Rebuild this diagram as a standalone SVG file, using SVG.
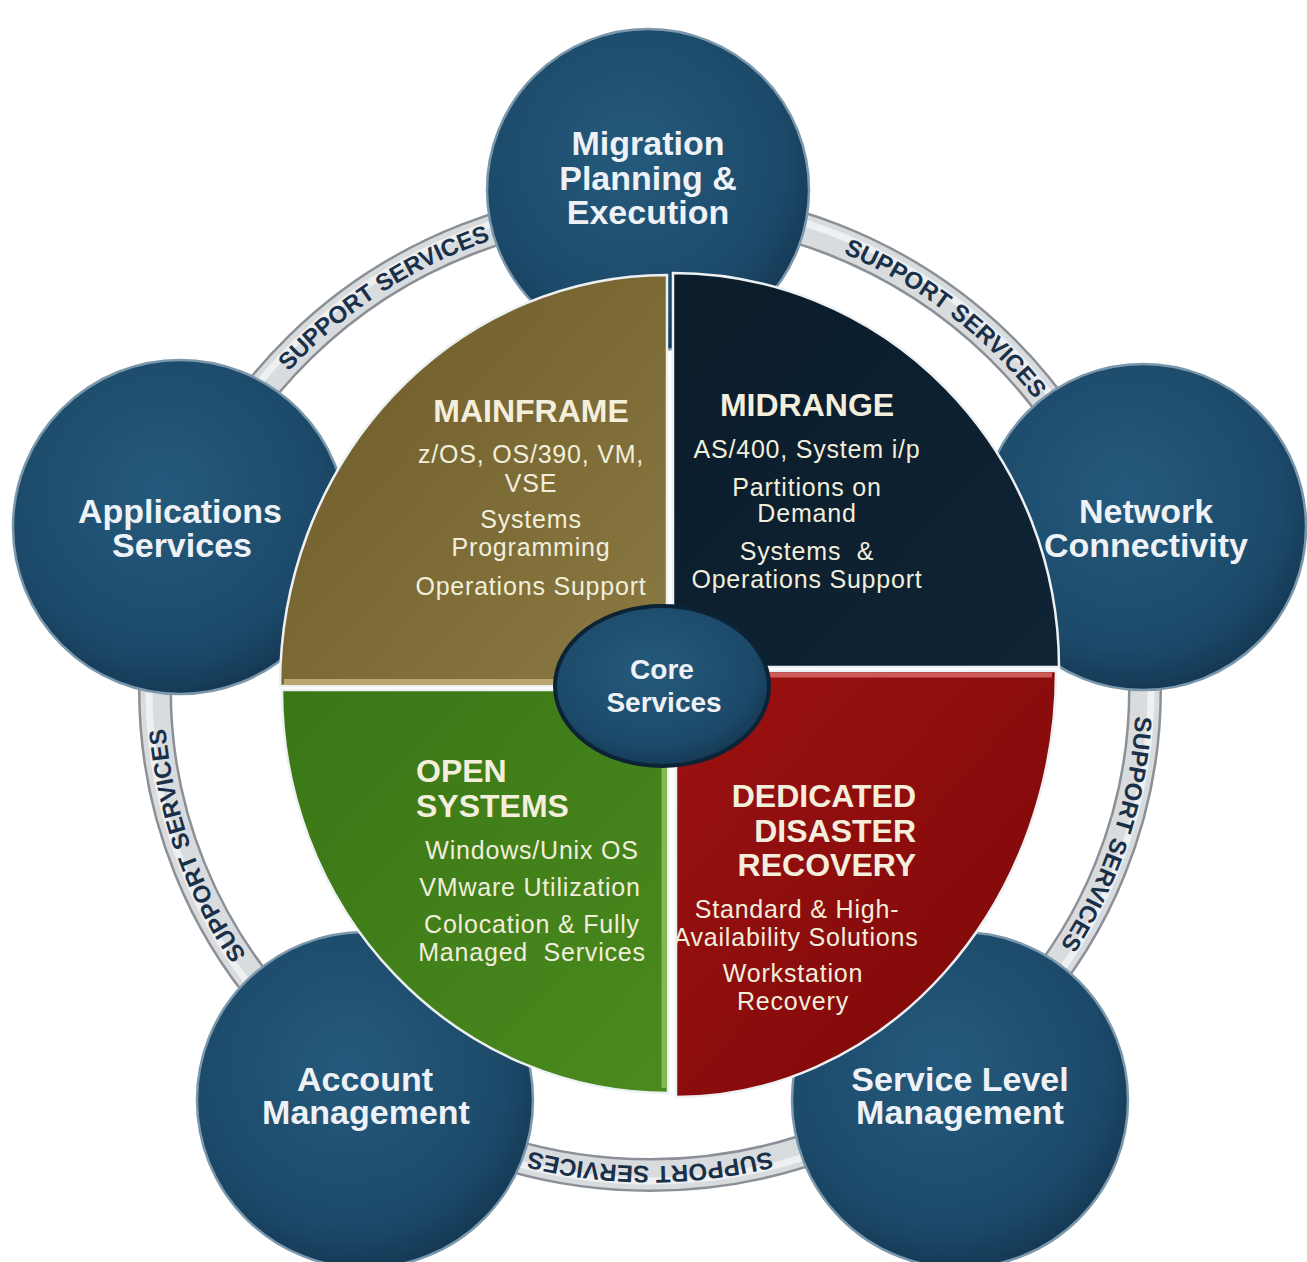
<svg xmlns="http://www.w3.org/2000/svg" width="1307" height="1262" viewBox="0 0 1307 1262">
<defs>
  <radialGradient id="nodeGrad" cx="45%" cy="40%" r="60%">
    <stop offset="0" stop-color="#255a7c"/>
    <stop offset="0.8" stop-color="#1c4969"/>
    <stop offset="1" stop-color="#153a56"/>
  </radialGradient>
  <linearGradient id="mfGrad" x1="0" y1="0" x2="1" y2="1">
    <stop offset="0" stop-color="#6c5a28"/>
    <stop offset="1" stop-color="#8c7a43"/>
  </linearGradient>
  <linearGradient id="midGrad" x1="0" y1="0" x2="1" y2="1">
    <stop offset="0" stop-color="#0b1c2a"/>
    <stop offset="1" stop-color="#0f2435"/>
  </linearGradient>
  <linearGradient id="greenGrad" x1="0" y1="0" x2="1" y2="1">
    <stop offset="0" stop-color="#3a7616"/>
    <stop offset="1" stop-color="#4a8a1e"/>
  </linearGradient>
  <linearGradient id="redGrad" x1="0" y1="0" x2="1" y2="1">
    <stop offset="0" stop-color="#9c1212"/>
    <stop offset="1" stop-color="#7c0707"/>
  </linearGradient>
  <path id="ringText" d="M164,690 A486,476 0 0 1 1136,690 A486,476 0 0 1 164,690 Z"/>
</defs>
<style>
  .node { fill: url(#nodeGrad); stroke: #7a97ab; stroke-width: 2.5; }
  .nodeText { font-family: "Liberation Sans", Arial, sans-serif; font-weight: bold; font-size: 34px; fill: #eef2f6; text-anchor: middle; }
  .quad { stroke: #eef1f3; stroke-width: 2.5; }
  .head { font-family: "Liberation Sans", Arial, sans-serif; font-weight: bold; font-size: 32px; fill: #f3efdc; }
  .sub { font-family: "Liberation Sans", Arial, sans-serif; font-size: 25px; letter-spacing: 0.8px; fill: #f1eedc; text-anchor: middle; white-space: pre; }
  .ringTxt { font-family: "Liberation Sans", Arial, sans-serif; font-weight: bold; font-size: 24px; fill: #1a2f48; text-anchor: middle; }
</style>
<rect width="1307" height="1262" fill="#ffffff"/>

<g id="connectors">
  <ellipse cx="650" cy="690" rx="495" ry="485" fill="none" stroke="#8b9096" stroke-width="34"/>
  <ellipse cx="650" cy="690" rx="495" ry="485" fill="none" stroke="#d9dcdf" stroke-width="29"/>
  <ellipse cx="650" cy="690" rx="501" ry="491" fill="none" stroke="#eef0f2" stroke-width="7"/>
  <text class="ringTxt"><textPath href="#ringText" startOffset="15.6%">SUPPORT SERVICES</textPath></text>
  <text class="ringTxt"><textPath href="#ringText" startOffset="35.6%">SUPPORT SERVICES</textPath></text>
  <text class="ringTxt"><textPath href="#ringText" startOffset="54.9%">SUPPORT SERVICES</textPath></text>
  <text class="ringTxt"><textPath href="#ringText" startOffset="75%">SUPPORT SERVICES</textPath></text>
  <text class="ringTxt"><textPath href="#ringText" startOffset="94.7%">SUPPORT SERVICES</textPath></text>
</g>

<g id="node-migration">
  <circle class="node" cx="648" cy="190" r="161"/>
  <text class="nodeText" x="648" y="155">Migration</text>
  <text class="nodeText" x="648" y="190">Planning &amp;</text>
  <text class="nodeText" x="648" y="224">Execution</text>
</g>
<g id="node-applications">
  <circle class="node" cx="180" cy="527" r="167"/>
  <text class="nodeText" x="180" y="523">Applications</text>
  <text class="nodeText" x="182" y="557">Services</text>
</g>
<g id="node-network">
  <circle class="node" cx="1143" cy="527" r="163"/>
  <text class="nodeText" x="1146" y="523">Network</text>
  <text class="nodeText" x="1146" y="557">Connectivity</text>
</g>
<g id="node-account">
  <circle class="node" cx="365" cy="1100" r="168"/>
  <text class="nodeText" x="365" y="1091">Account</text>
  <text class="nodeText" x="366" y="1124">Management</text>
</g>
<g id="node-service-level">
  <circle class="node" cx="960" cy="1100" r="168"/>
  <text class="nodeText" x="960" y="1091">Service Level</text>
  <text class="nodeText" x="960" y="1124">Management</text>
</g>

<g id="node-mainframe">
  <path class="quad" d="M667,686 L280,686 A387,411 0 0 1 667,275 Z" fill="url(#mfGrad)"/>
  <line x1="284" y1="682" x2="665" y2="682" stroke="#b9a56e" stroke-width="6"/>
  <text class="head" x="531" y="422" text-anchor="middle">MAINFRAME</text>
  <text class="sub" x="531" y="463">z/OS, OS/390, VM,</text>
  <text class="sub" x="531" y="492">VSE</text>
  <text class="sub" x="531" y="528">Systems</text>
  <text class="sub" x="531" y="556">Programming</text>
  <text class="sub" x="531" y="595">Operations Support</text>
</g>
<g id="node-midrange">
  <path class="quad" d="M673,667 L673,273 A386,394 0 0 1 1059,667 Z" fill="url(#midGrad)"/>
  <text class="head" x="807" y="416" text-anchor="middle">MIDRANGE</text>
  <text class="sub" x="807" y="458">AS/400, System i/p</text>
  <text class="sub" x="807" y="496">Partitions on</text>
  <text class="sub" x="807" y="522">Demand</text>
  <text class="sub" x="807" y="560">Systems  &amp;</text>
  <text class="sub" x="807" y="588">Operations Support</text>
</g>
<g id="node-open-systems">
  <path class="quad" d="M668,690 L668,1093 A386,403 0 0 1 282,690 Z" fill="url(#greenGrad)"/>
  <line x1="664" y1="694" x2="664" y2="1088" stroke="#86b84e" stroke-width="5"/>
  <text class="head" x="416" y="782">OPEN</text>
  <text class="head" x="416" y="817">SYSTEMS</text>
  <text class="sub" x="532" y="859">Windows/Unix OS</text>
  <text class="sub" x="530" y="896">VMware Utilization</text>
  <text class="sub" x="532" y="933">Colocation &amp; Fully</text>
  <text class="sub" x="532" y="961">Managed  Services</text>
</g>
<g id="node-disaster-recovery">
  <path class="quad" d="M676,671 L1056,671 A380,426 0 0 1 676,1097 Z" fill="url(#redGrad)"/>
  <line x1="680" y1="675" x2="1052" y2="675" stroke="#cf5a5a" stroke-width="5"/>
  <text class="head" x="916" y="807" text-anchor="end">DEDICATED</text>
  <text class="head" x="916" y="842" text-anchor="end">DISASTER</text>
  <text class="head" x="916" y="876" text-anchor="end">RECOVERY</text>
  <text class="sub" x="797" y="918">Standard &amp; High-</text>
  <text class="sub" x="796" y="946">Availability Solutions</text>
  <text class="sub" x="793" y="982">Workstation</text>
  <text class="sub" x="793" y="1010">Recovery</text>
</g>

<g id="node-core">
  <ellipse cx="662" cy="686" rx="107" ry="80" fill="url(#nodeGrad)" stroke="#0c2335" stroke-width="4"/>
  <text class="nodeText" x="662" y="679" style="font-size:28px">Core</text>
  <text class="nodeText" x="664" y="712" style="font-size:28px">Services</text>
</g>
</svg>
